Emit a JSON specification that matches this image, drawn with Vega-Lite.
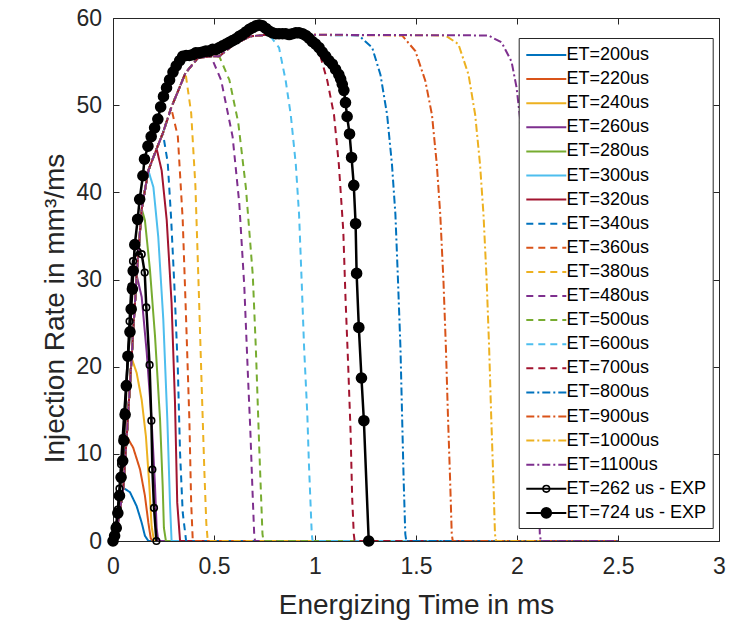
{
  "$schema": "https://vega.github.io/schema/vega-lite/v6.json",
  "width": 606,
  "height": 523,
  "autosize": "none",
  "padding": {"left": 113, "top": 18, "right": 10, "bottom": 81},
  "background": "white",
  "config": {
    "font": "Liberation Sans",
    "view": {"stroke": "#262626", "strokeWidth": 1},
    "axis": {"grid": false, "domain": false, "tickColor": "#262626", "tickSize": -6, "tickWidth": 1, "labelColor": "#262626", "labelFontSize": 23, "labelFlush": false, "titleColor": "#262626", "titleFontSize": 28, "titleFontWeight": "normal", "labelFont": "Liberation Sans", "titleFont": "Liberation Sans"}
  },
  "data": {"values": [
    {"s":"ET=200us","x":0,"y":0},{"s":"ET=200us","x":0.02,"y":1.5},{"s":"ET=200us","x":0.035,"y":3.6},{"s":"ET=200us","x":0.051,"y":6.1},{"s":"ET=200us","x":0.084,"y":5.6},{"s":"ET=200us","x":0.117,"y":4.0},{"s":"ET=200us","x":0.142,"y":2.1},{"s":"ET=200us","x":0.158,"y":0.6},{"s":"ET=200us","x":0.175,"y":0},{"s":"ET=200us","x":2.5,"y":0},

    {"s":"ET=220us","x":0,"y":0},{"s":"ET=220us","x":0.02,"y":1.5},{"s":"ET=220us","x":0.035,"y":3.6},{"s":"ET=220us","x":0.051,"y":6.1},{"s":"ET=220us","x":0.068,"y":12},{"s":"ET=220us","x":0.1,"y":10.7},{"s":"ET=220us","x":0.134,"y":8.2},{"s":"ET=220us","x":0.158,"y":5.2},{"s":"ET=220us","x":0.175,"y":2.1},{"s":"ET=220us","x":0.187,"y":0.3},{"s":"ET=220us","x":0.196,"y":0},{"s":"ET=220us","x":2.5,"y":0},

    {"s":"ET=240us","x":0,"y":0},{"s":"ET=240us","x":0.02,"y":1.5},{"s":"ET=240us","x":0.035,"y":3.6},{"s":"ET=240us","x":0.051,"y":6.1},{"s":"ET=240us","x":0.068,"y":12},{"s":"ET=240us","x":0.092,"y":21},{"s":"ET=240us","x":0.117,"y":19.3},{"s":"ET=240us","x":0.142,"y":16.2},{"s":"ET=240us","x":0.163,"y":12},{"s":"ET=240us","x":0.18,"y":6.3},{"s":"ET=240us","x":0.191,"y":1.7},{"s":"ET=240us","x":0.203,"y":0},{"s":"ET=240us","x":2.5,"y":0},

    {"s":"ET=260us","x":0,"y":0},{"s":"ET=260us","x":0.02,"y":1.5},{"s":"ET=260us","x":0.035,"y":3.6},{"s":"ET=260us","x":0.051,"y":6.1},{"s":"ET=260us","x":0.068,"y":12},{"s":"ET=260us","x":0.092,"y":21},{"s":"ET=260us","x":0.117,"y":30.5},{"s":"ET=260us","x":0.142,"y":28},{"s":"ET=260us","x":0.167,"y":21.6},{"s":"ET=260us","x":0.191,"y":13.9},{"s":"ET=260us","x":0.208,"y":6.3},{"s":"ET=260us","x":0.216,"y":1.5},{"s":"ET=260us","x":0.224,"y":0},{"s":"ET=260us","x":2.5,"y":0},

    {"s":"ET=280us","x":0,"y":0},{"s":"ET=280us","x":0.02,"y":1.5},{"s":"ET=280us","x":0.035,"y":3.6},{"s":"ET=280us","x":0.051,"y":6.1},{"s":"ET=280us","x":0.068,"y":12},{"s":"ET=280us","x":0.092,"y":21},{"s":"ET=280us","x":0.117,"y":30.5},{"s":"ET=280us","x":0.142,"y":38.1},{"s":"ET=280us","x":0.158,"y":36.8},{"s":"ET=280us","x":0.183,"y":31.1},{"s":"ET=280us","x":0.208,"y":23.5},{"s":"ET=280us","x":0.233,"y":13.9},{"s":"ET=280us","x":0.246,"y":6.3},{"s":"ET=280us","x":0.252,"y":1.5},{"s":"ET=280us","x":0.262,"y":0},{"s":"ET=280us","x":2.5,"y":0},

    {"s":"ET=300us","x":0,"y":0},{"s":"ET=300us","x":0.02,"y":1.5},{"s":"ET=300us","x":0.035,"y":3.6},{"s":"ET=300us","x":0.051,"y":6.1},{"s":"ET=300us","x":0.068,"y":12},{"s":"ET=300us","x":0.092,"y":21},{"s":"ET=300us","x":0.117,"y":30.5},{"s":"ET=300us","x":0.142,"y":38.1},{"s":"ET=300us","x":0.175,"y":42.5},{"s":"ET=300us","x":0.2,"y":40.6},{"s":"ET=300us","x":0.224,"y":34.9},{"s":"ET=300us","x":0.249,"y":25.4},{"s":"ET=300us","x":0.269,"y":13.9},{"s":"ET=300us","x":0.282,"y":4.4},{"s":"ET=300us","x":0.29,"y":0},{"s":"ET=300us","x":2.5,"y":0},

    {"s":"ET=320us","x":0,"y":0},{"s":"ET=320us","x":0.02,"y":1.5},{"s":"ET=320us","x":0.035,"y":3.6},{"s":"ET=320us","x":0.051,"y":6.1},{"s":"ET=320us","x":0.068,"y":12},{"s":"ET=320us","x":0.092,"y":21},{"s":"ET=320us","x":0.117,"y":30.5},{"s":"ET=320us","x":0.142,"y":38.1},{"s":"ET=320us","x":0.175,"y":42.5},{"s":"ET=320us","x":0.216,"y":45},{"s":"ET=320us","x":0.241,"y":42.5},{"s":"ET=320us","x":0.266,"y":36.8},{"s":"ET=320us","x":0.29,"y":27.3},{"s":"ET=320us","x":0.307,"y":15.8},{"s":"ET=320us","x":0.318,"y":4.4},{"s":"ET=320us","x":0.332,"y":0},{"s":"ET=320us","x":2.5,"y":0},

    {"s":"ET=340us","x":0,"y":0},{"s":"ET=340us","x":0.02,"y":1.5},{"s":"ET=340us","x":0.035,"y":3.6},{"s":"ET=340us","x":0.051,"y":6.1},{"s":"ET=340us","x":0.068,"y":12},{"s":"ET=340us","x":0.092,"y":21},{"s":"ET=340us","x":0.117,"y":30.5},{"s":"ET=340us","x":0.142,"y":38.1},{"s":"ET=340us","x":0.175,"y":42.5},{"s":"ET=340us","x":0.216,"y":45},{"s":"ET=340us","x":0.247,"y":46.8},{"s":"ET=340us","x":0.271,"y":43.4},{"s":"ET=340us","x":0.288,"y":36.9},{"s":"ET=340us","x":0.304,"y":29.2},{"s":"ET=340us","x":0.321,"y":19.7},{"s":"ET=340us","x":0.332,"y":10.1},{"s":"ET=340us","x":0.345,"y":3.3},{"s":"ET=340us","x":0.362,"y":0},{"s":"ET=340us","x":2.5,"y":0},

    {"s":"ET=360us","x":0,"y":0},{"s":"ET=360us","x":0.02,"y":1.5},{"s":"ET=360us","x":0.035,"y":3.6},{"s":"ET=360us","x":0.051,"y":6.1},{"s":"ET=360us","x":0.068,"y":12},{"s":"ET=360us","x":0.092,"y":21},{"s":"ET=360us","x":0.117,"y":30.5},{"s":"ET=360us","x":0.142,"y":38.1},{"s":"ET=360us","x":0.175,"y":42.5},{"s":"ET=360us","x":0.216,"y":45},{"s":"ET=360us","x":0.247,"y":46.8},{"s":"ET=360us","x":0.288,"y":49.7},{"s":"ET=360us","x":0.321,"y":46.4},{"s":"ET=360us","x":0.345,"y":36.9},{"s":"ET=360us","x":0.362,"y":25.4},{"s":"ET=360us","x":0.378,"y":14},{"s":"ET=360us","x":0.387,"y":4.4},{"s":"ET=360us","x":0.395,"y":0},{"s":"ET=360us","x":2.5,"y":0},

    {"s":"ET=380us","x":0,"y":0},{"s":"ET=380us","x":0.02,"y":1.5},{"s":"ET=380us","x":0.035,"y":3.6},{"s":"ET=380us","x":0.051,"y":6.1},{"s":"ET=380us","x":0.068,"y":12},{"s":"ET=380us","x":0.092,"y":21},{"s":"ET=380us","x":0.117,"y":30.5},{"s":"ET=380us","x":0.142,"y":38.1},{"s":"ET=380us","x":0.175,"y":42.5},{"s":"ET=380us","x":0.216,"y":45},{"s":"ET=380us","x":0.247,"y":46.8},{"s":"ET=380us","x":0.288,"y":49.7},{"s":"ET=380us","x":0.359,"y":53.7},{"s":"ET=380us","x":0.387,"y":49.1},{"s":"ET=380us","x":0.408,"y":40.7},{"s":"ET=380us","x":0.424,"y":29.2},{"s":"ET=380us","x":0.439,"y":17.8},{"s":"ET=380us","x":0.452,"y":8.2},{"s":"ET=380us","x":0.462,"y":2},{"s":"ET=380us","x":0.469,"y":0},{"s":"ET=380us","x":2.5,"y":0},

    {"s":"ET=480us","x":0,"y":0},{"s":"ET=480us","x":0.02,"y":1.5},{"s":"ET=480us","x":0.035,"y":3.6},{"s":"ET=480us","x":0.051,"y":6.1},{"s":"ET=480us","x":0.068,"y":12},{"s":"ET=480us","x":0.092,"y":21},{"s":"ET=480us","x":0.117,"y":30.5},{"s":"ET=480us","x":0.142,"y":38.1},{"s":"ET=480us","x":0.175,"y":42.5},{"s":"ET=480us","x":0.216,"y":45},{"s":"ET=480us","x":0.247,"y":46.8},{"s":"ET=480us","x":0.288,"y":49.7},{"s":"ET=480us","x":0.359,"y":53.7},{"s":"ET=480us","x":0.42,"y":55.4},{"s":"ET=480us","x":0.485,"y":55.6},{"s":"ET=480us","x":0.535,"y":52.9},{"s":"ET=480us","x":0.592,"y":46.4},{"s":"ET=480us","x":0.625,"y":38.8},{"s":"ET=480us","x":0.65,"y":29.2},{"s":"ET=480us","x":0.668,"y":19},{"s":"ET=480us","x":0.68,"y":12.6},{"s":"ET=480us","x":0.69,"y":6.1},{"s":"ET=480us","x":0.699,"y":0.8},{"s":"ET=480us","x":0.703,"y":0},{"s":"ET=480us","x":2.5,"y":0},

    {"s":"ET=500us","x":0,"y":0},{"s":"ET=500us","x":0.02,"y":1.5},{"s":"ET=500us","x":0.035,"y":3.6},{"s":"ET=500us","x":0.051,"y":6.1},{"s":"ET=500us","x":0.068,"y":12},{"s":"ET=500us","x":0.092,"y":21},{"s":"ET=500us","x":0.117,"y":30.5},{"s":"ET=500us","x":0.142,"y":38.1},{"s":"ET=500us","x":0.175,"y":42.5},{"s":"ET=500us","x":0.216,"y":45},{"s":"ET=500us","x":0.247,"y":46.8},{"s":"ET=500us","x":0.288,"y":49.7},{"s":"ET=500us","x":0.359,"y":53.7},{"s":"ET=500us","x":0.42,"y":55.4},{"s":"ET=500us","x":0.485,"y":55.6},{"s":"ET=500us","x":0.526,"y":55.6},{"s":"ET=500us","x":0.576,"y":52.9},{"s":"ET=500us","x":0.62,"y":48},{"s":"ET=500us","x":0.658,"y":40.5},{"s":"ET=500us","x":0.692,"y":30.5},{"s":"ET=500us","x":0.707,"y":22.2},{"s":"ET=500us","x":0.724,"y":10.7},{"s":"ET=500us","x":0.74,"y":0.8},{"s":"ET=500us","x":0.745,"y":0},{"s":"ET=500us","x":2.5,"y":0},

    {"s":"ET=600us","x":0,"y":0},{"s":"ET=600us","x":0.02,"y":1.5},{"s":"ET=600us","x":0.035,"y":3.6},{"s":"ET=600us","x":0.051,"y":6.1},{"s":"ET=600us","x":0.068,"y":12},{"s":"ET=600us","x":0.092,"y":21},{"s":"ET=600us","x":0.117,"y":30.5},{"s":"ET=600us","x":0.142,"y":38.1},{"s":"ET=600us","x":0.175,"y":42.5},{"s":"ET=600us","x":0.216,"y":45},{"s":"ET=600us","x":0.247,"y":46.8},{"s":"ET=600us","x":0.288,"y":49.7},{"s":"ET=600us","x":0.359,"y":53.7},{"s":"ET=600us","x":0.42,"y":55.4},{"s":"ET=600us","x":0.485,"y":55.6},{"s":"ET=600us","x":0.526,"y":55.6},{"s":"ET=600us","x":0.6,"y":57},{"s":"ET=600us","x":0.68,"y":57.9},{"s":"ET=600us","x":0.773,"y":58.1},{"s":"ET=600us","x":0.822,"y":56.6},{"s":"ET=600us","x":0.855,"y":52.8},{"s":"ET=600us","x":0.88,"y":48.9},{"s":"ET=600us","x":0.905,"y":43.2},{"s":"ET=600us","x":0.921,"y":37.5},{"s":"ET=600us","x":0.934,"y":29.8},{"s":"ET=600us","x":0.946,"y":22.2},{"s":"ET=600us","x":0.962,"y":14.5},{"s":"ET=600us","x":0.97,"y":8.8},{"s":"ET=600us","x":0.984,"y":0.8},{"s":"ET=600us","x":0.988,"y":0},{"s":"ET=600us","x":2.5,"y":0},

    {"s":"ET=700us","x":0,"y":0},{"s":"ET=700us","x":0.02,"y":1.5},{"s":"ET=700us","x":0.035,"y":3.6},{"s":"ET=700us","x":0.051,"y":6.1},{"s":"ET=700us","x":0.068,"y":12},{"s":"ET=700us","x":0.092,"y":21},{"s":"ET=700us","x":0.117,"y":30.5},{"s":"ET=700us","x":0.142,"y":38.1},{"s":"ET=700us","x":0.175,"y":42.5},{"s":"ET=700us","x":0.216,"y":45},{"s":"ET=700us","x":0.247,"y":46.8},{"s":"ET=700us","x":0.288,"y":49.7},{"s":"ET=700us","x":0.359,"y":53.7},{"s":"ET=700us","x":0.42,"y":55.4},{"s":"ET=700us","x":0.485,"y":55.6},{"s":"ET=700us","x":0.526,"y":55.6},{"s":"ET=700us","x":0.6,"y":57},{"s":"ET=700us","x":0.68,"y":57.9},{"s":"ET=700us","x":0.773,"y":58.1},{"s":"ET=700us","x":0.94,"y":58.1},{"s":"ET=700us","x":0.97,"y":57.3},{"s":"ET=700us","x":1.02,"y":56.2},{"s":"ET=700us","x":1.061,"y":52.8},{"s":"ET=700us","x":1.094,"y":48.9},{"s":"ET=700us","x":1.118,"y":43.2},{"s":"ET=700us","x":1.14,"y":35.6},{"s":"ET=700us","x":1.151,"y":27.9},{"s":"ET=700us","x":1.164,"y":20.3},{"s":"ET=700us","x":1.176,"y":12.6},{"s":"ET=700us","x":1.184,"y":5},{"s":"ET=700us","x":1.192,"y":0.8},{"s":"ET=700us","x":1.196,"y":0},{"s":"ET=700us","x":2.5,"y":0},

    {"s":"ET=800us","x":0,"y":0},{"s":"ET=800us","x":0.02,"y":1.5},{"s":"ET=800us","x":0.035,"y":3.6},{"s":"ET=800us","x":0.051,"y":6.1},{"s":"ET=800us","x":0.068,"y":12},{"s":"ET=800us","x":0.092,"y":21},{"s":"ET=800us","x":0.117,"y":30.5},{"s":"ET=800us","x":0.142,"y":38.1},{"s":"ET=800us","x":0.175,"y":42.5},{"s":"ET=800us","x":0.216,"y":45},{"s":"ET=800us","x":0.247,"y":46.8},{"s":"ET=800us","x":0.288,"y":49.7},{"s":"ET=800us","x":0.359,"y":53.7},{"s":"ET=800us","x":0.42,"y":55.4},{"s":"ET=800us","x":0.485,"y":55.6},{"s":"ET=800us","x":0.526,"y":55.6},{"s":"ET=800us","x":0.6,"y":57},{"s":"ET=800us","x":0.68,"y":57.9},{"s":"ET=800us","x":0.773,"y":58.1},{"s":"ET=800us","x":1.217,"y":58},{"s":"ET=800us","x":1.283,"y":56.6},{"s":"ET=800us","x":1.324,"y":53.5},{"s":"ET=800us","x":1.357,"y":48.9},{"s":"ET=800us","x":1.381,"y":43.2},{"s":"ET=800us","x":1.398,"y":37.5},{"s":"ET=800us","x":1.411,"y":29.8},{"s":"ET=800us","x":1.423,"y":22.2},{"s":"ET=800us","x":1.431,"y":14.5},{"s":"ET=800us","x":1.439,"y":6.9},{"s":"ET=800us","x":1.447,"y":0.8},{"s":"ET=800us","x":1.452,"y":0},{"s":"ET=800us","x":2.5,"y":0},

    {"s":"ET=900us","x":0,"y":0},{"s":"ET=900us","x":0.02,"y":1.5},{"s":"ET=900us","x":0.035,"y":3.6},{"s":"ET=900us","x":0.051,"y":6.1},{"s":"ET=900us","x":0.068,"y":12},{"s":"ET=900us","x":0.092,"y":21},{"s":"ET=900us","x":0.117,"y":30.5},{"s":"ET=900us","x":0.142,"y":38.1},{"s":"ET=900us","x":0.175,"y":42.5},{"s":"ET=900us","x":0.216,"y":45},{"s":"ET=900us","x":0.247,"y":46.8},{"s":"ET=900us","x":0.288,"y":49.7},{"s":"ET=900us","x":0.359,"y":53.7},{"s":"ET=900us","x":0.42,"y":55.4},{"s":"ET=900us","x":0.485,"y":55.6},{"s":"ET=900us","x":0.526,"y":55.6},{"s":"ET=900us","x":0.6,"y":57},{"s":"ET=900us","x":0.68,"y":57.9},{"s":"ET=900us","x":0.773,"y":58.1},{"s":"ET=900us","x":1.431,"y":58},{"s":"ET=900us","x":1.497,"y":56.2},{"s":"ET=900us","x":1.546,"y":52.8},{"s":"ET=900us","x":1.579,"y":48.9},{"s":"ET=900us","x":1.603,"y":43.2},{"s":"ET=900us","x":1.62,"y":37.5},{"s":"ET=900us","x":1.636,"y":29.8},{"s":"ET=900us","x":1.648,"y":22.2},{"s":"ET=900us","x":1.658,"y":14.5},{"s":"ET=900us","x":1.669,"y":6.9},{"s":"ET=900us","x":1.677,"y":0.8},{"s":"ET=900us","x":1.682,"y":0},{"s":"ET=900us","x":2.5,"y":0},

    {"s":"ET=1000us","x":0,"y":0},{"s":"ET=1000us","x":0.02,"y":1.5},{"s":"ET=1000us","x":0.035,"y":3.6},{"s":"ET=1000us","x":0.051,"y":6.1},{"s":"ET=1000us","x":0.068,"y":12},{"s":"ET=1000us","x":0.092,"y":21},{"s":"ET=1000us","x":0.117,"y":30.5},{"s":"ET=1000us","x":0.142,"y":38.1},{"s":"ET=1000us","x":0.175,"y":42.5},{"s":"ET=1000us","x":0.216,"y":45},{"s":"ET=1000us","x":0.247,"y":46.8},{"s":"ET=1000us","x":0.288,"y":49.7},{"s":"ET=1000us","x":0.359,"y":53.7},{"s":"ET=1000us","x":0.42,"y":55.4},{"s":"ET=1000us","x":0.485,"y":55.6},{"s":"ET=1000us","x":0.526,"y":55.6},{"s":"ET=1000us","x":0.6,"y":57},{"s":"ET=1000us","x":0.68,"y":57.9},{"s":"ET=1000us","x":0.773,"y":58.1},{"s":"ET=1000us","x":1.645,"y":58},{"s":"ET=1000us","x":1.71,"y":57},{"s":"ET=1000us","x":1.76,"y":53.5},{"s":"ET=1000us","x":1.793,"y":48.9},{"s":"ET=1000us","x":1.817,"y":43.2},{"s":"ET=1000us","x":1.834,"y":37.5},{"s":"ET=1000us","x":1.85,"y":29.8},{"s":"ET=1000us","x":1.862,"y":22.2},{"s":"ET=1000us","x":1.872,"y":14.5},{"s":"ET=1000us","x":1.883,"y":6.9},{"s":"ET=1000us","x":1.891,"y":0.8},{"s":"ET=1000us","x":1.896,"y":0},{"s":"ET=1000us","x":2.5,"y":0},

    {"s":"ET=1100us","x":0,"y":0},{"s":"ET=1100us","x":0.02,"y":1.5},{"s":"ET=1100us","x":0.035,"y":3.6},{"s":"ET=1100us","x":0.051,"y":6.1},{"s":"ET=1100us","x":0.068,"y":12},{"s":"ET=1100us","x":0.092,"y":21},{"s":"ET=1100us","x":0.117,"y":30.5},{"s":"ET=1100us","x":0.142,"y":38.1},{"s":"ET=1100us","x":0.175,"y":42.5},{"s":"ET=1100us","x":0.216,"y":45},{"s":"ET=1100us","x":0.247,"y":46.8},{"s":"ET=1100us","x":0.288,"y":49.7},{"s":"ET=1100us","x":0.359,"y":53.7},{"s":"ET=1100us","x":0.42,"y":55.4},{"s":"ET=1100us","x":0.485,"y":55.6},{"s":"ET=1100us","x":0.526,"y":55.6},{"s":"ET=1100us","x":0.6,"y":57},{"s":"ET=1100us","x":0.68,"y":57.9},{"s":"ET=1100us","x":0.773,"y":58.1},{"s":"ET=1100us","x":1.858,"y":58},{"s":"ET=1100us","x":1.924,"y":57.2},{"s":"ET=1100us","x":1.973,"y":55},{"s":"ET=1100us","x":1.998,"y":52},{"s":"ET=1100us","x":2.02,"y":47.5},{"s":"ET=1100us","x":2.04,"y":42.5},{"s":"ET=1100us","x":2.056,"y":37.5},{"s":"ET=1100us","x":2.072,"y":29.8},{"s":"ET=1100us","x":2.084,"y":22.2},{"s":"ET=1100us","x":2.094,"y":14.5},{"s":"ET=1100us","x":2.105,"y":6.9},{"s":"ET=1100us","x":2.113,"y":0.8},{"s":"ET=1100us","x":2.118,"y":0},{"s":"ET=1100us","x":2.5,"y":0},

    {"s":"ET=262 us - EXP","x":0,"y":0},{"s":"ET=262 us - EXP","x":0.008,"y":0.6},{"s":"ET=262 us - EXP","x":0.016,"y":1.8},{"s":"ET=262 us - EXP","x":0.024,"y":3.6},{"s":"ET=262 us - EXP","x":0.032,"y":6},{"s":"ET=262 us - EXP","x":0.04,"y":8.8},{"s":"ET=262 us - EXP","x":0.048,"y":11.8},{"s":"ET=262 us - EXP","x":0.056,"y":14.8},{"s":"ET=262 us - EXP","x":0.066,"y":18},{"s":"ET=262 us - EXP","x":0.074,"y":21.2},{"s":"ET=262 us - EXP","x":0.082,"y":25.2},{"s":"ET=262 us - EXP","x":0.091,"y":29.2},{"s":"ET=262 us - EXP","x":0.099,"y":32.1},{"s":"ET=262 us - EXP","x":0.122,"y":33.2},{"s":"ET=262 us - EXP","x":0.142,"y":32.9},{"s":"ET=262 us - EXP","x":0.157,"y":30.8},{"s":"ET=262 us - EXP","x":0.165,"y":26.8},{"s":"ET=262 us - EXP","x":0.181,"y":20.2},{"s":"ET=262 us - EXP","x":0.19,"y":13.8},{"s":"ET=262 us - EXP","x":0.195,"y":8.2},{"s":"ET=262 us - EXP","x":0.203,"y":3.8},{"s":"ET=262 us - EXP","x":0.215,"y":0},

    {"s":"ET=724 us - EXP","x":0,"y":0},{"s":"ET=724 us - EXP","x":0.008,"y":0.6},{"s":"ET=724 us - EXP","x":0.016,"y":1.5},{"s":"ET=724 us - EXP","x":0.024,"y":3.2},{"s":"ET=724 us - EXP","x":0.032,"y":5.2},{"s":"ET=724 us - EXP","x":0.04,"y":7.3},{"s":"ET=724 us - EXP","x":0.048,"y":9.2},{"s":"ET=724 us - EXP","x":0.054,"y":11.5},{"s":"ET=724 us - EXP","x":0.06,"y":14.5},{"s":"ET=724 us - EXP","x":0.066,"y":17.8},{"s":"ET=724 us - EXP","x":0.074,"y":21.2},{"s":"ET=724 us - EXP","x":0.084,"y":24},{"s":"ET=724 us - EXP","x":0.09,"y":26.6},{"s":"ET=724 us - EXP","x":0.096,"y":28.9},{"s":"ET=724 us - EXP","x":0.1,"y":31},{"s":"ET=724 us - EXP","x":0.108,"y":34},{"s":"ET=724 us - EXP","x":0.122,"y":36.9},{"s":"ET=724 us - EXP","x":0.132,"y":39.2},{"s":"ET=724 us - EXP","x":0.148,"y":41.9},{"s":"ET=724 us - EXP","x":0.156,"y":43.8},{"s":"ET=724 us - EXP","x":0.173,"y":45.3},{"s":"ET=724 us - EXP","x":0.189,"y":46.4},{"s":"ET=724 us - EXP","x":0.206,"y":47.4},{"s":"ET=724 us - EXP","x":0.222,"y":48.4},{"s":"ET=724 us - EXP","x":0.236,"y":49.8},{"s":"ET=724 us - EXP","x":0.25,"y":51},{"s":"ET=724 us - EXP","x":0.265,"y":52},{"s":"ET=724 us - EXP","x":0.28,"y":52.9},{"s":"ET=724 us - EXP","x":0.297,"y":53.8},{"s":"ET=724 us - EXP","x":0.313,"y":54.5},{"s":"ET=724 us - EXP","x":0.33,"y":55.1},{"s":"ET=724 us - EXP","x":0.345,"y":55.6},{"s":"ET=724 us - EXP","x":0.362,"y":55.7},{"s":"ET=724 us - EXP","x":0.378,"y":55.7},{"s":"ET=724 us - EXP","x":0.395,"y":55.8},{"s":"ET=724 us - EXP","x":0.41,"y":56},{"s":"ET=724 us - EXP","x":0.427,"y":56},{"s":"ET=724 us - EXP","x":0.444,"y":56.1},{"s":"ET=724 us - EXP","x":0.46,"y":56.2},{"s":"ET=724 us - EXP","x":0.477,"y":56.2},{"s":"ET=724 us - EXP","x":0.493,"y":56.4},{"s":"ET=724 us - EXP","x":0.51,"y":56.4},{"s":"ET=724 us - EXP","x":0.527,"y":56.6},{"s":"ET=724 us - EXP","x":0.543,"y":56.8},{"s":"ET=724 us - EXP","x":0.56,"y":57},{"s":"ET=724 us - EXP","x":0.576,"y":57.2},{"s":"ET=724 us - EXP","x":0.592,"y":57.4},{"s":"ET=724 us - EXP","x":0.609,"y":57.6},{"s":"ET=724 us - EXP","x":0.625,"y":57.9},{"s":"ET=724 us - EXP","x":0.641,"y":58.1},{"s":"ET=724 us - EXP","x":0.658,"y":58.4},{"s":"ET=724 us - EXP","x":0.675,"y":58.7},{"s":"ET=724 us - EXP","x":0.691,"y":58.9},{"s":"ET=724 us - EXP","x":0.708,"y":59.1},{"s":"ET=724 us - EXP","x":0.724,"y":59.2},{"s":"ET=724 us - EXP","x":0.74,"y":59.1},{"s":"ET=724 us - EXP","x":0.757,"y":58.8},{"s":"ET=724 us - EXP","x":0.773,"y":58.5},{"s":"ET=724 us - EXP","x":0.79,"y":58.3},{"s":"ET=724 us - EXP","x":0.806,"y":58.2},{"s":"ET=724 us - EXP","x":0.822,"y":58.2},{"s":"ET=724 us - EXP","x":0.839,"y":58.2},{"s":"ET=724 us - EXP","x":0.855,"y":58.2},{"s":"ET=724 us - EXP","x":0.872,"y":58.1},{"s":"ET=724 us - EXP","x":0.888,"y":58.2},{"s":"ET=724 us - EXP","x":0.905,"y":58.3},{"s":"ET=724 us - EXP","x":0.921,"y":58.3},{"s":"ET=724 us - EXP","x":0.938,"y":58.2},{"s":"ET=724 us - EXP","x":0.954,"y":58},{"s":"ET=724 us - EXP","x":0.97,"y":57.7},{"s":"ET=724 us - EXP","x":0.987,"y":57.3},{"s":"ET=724 us - EXP","x":1.003,"y":57},{"s":"ET=724 us - EXP","x":1.02,"y":56.6},{"s":"ET=724 us - EXP","x":1.036,"y":56.1},{"s":"ET=724 us - EXP","x":1.053,"y":55.6},{"s":"ET=724 us - EXP","x":1.069,"y":55.1},{"s":"ET=724 us - EXP","x":1.086,"y":54.7},{"s":"ET=724 us - EXP","x":1.102,"y":54.1},{"s":"ET=724 us - EXP","x":1.118,"y":53.5},{"s":"ET=724 us - EXP","x":1.127,"y":53},{"s":"ET=724 us - EXP","x":1.135,"y":52.4},{"s":"ET=724 us - EXP","x":1.143,"y":51.7},{"s":"ET=724 us - EXP","x":1.151,"y":50.3},{"s":"ET=724 us - EXP","x":1.159,"y":48.7},{"s":"ET=724 us - EXP","x":1.171,"y":46.7},{"s":"ET=724 us - EXP","x":1.181,"y":44},{"s":"ET=724 us - EXP","x":1.192,"y":40.8},{"s":"ET=724 us - EXP","x":1.201,"y":36.4},{"s":"ET=724 us - EXP","x":1.206,"y":30.7},{"s":"ET=724 us - EXP","x":1.217,"y":24.5},{"s":"ET=724 us - EXP","x":1.23,"y":18.7},{"s":"ET=724 us - EXP","x":1.242,"y":13.8},{"s":"ET=724 us - EXP","x":1.266,"y":0}
  ]},
  "layer": [
    {
      "transform": [{"filter": {"not": {"field": "s", "oneOf": ["ET=262 us - EXP", "ET=724 us - EXP"]}}}],
      "mark": {"type": "line", "strokeWidth": 2, "clip": true},
      "encoding": {
        "x": {"field": "x", "type": "quantitative", "scale": {"domain": [0, 3], "nice": false, "zero": false},
              "axis": {"orient": "bottom", "values": [0, 0.5, 1, 1.5, 2, 2.5, 3], "format": "~g", "title": "Energizing Time in ms", "labelPadding": 20, "titleY": 72, "titleBaseline": "alphabetic"}},
        "y": {"field": "y", "type": "quantitative", "scale": {"domain": [0, 60], "nice": false},
              "axis": {"orient": "left", "values": [0, 10, 20, 30, 40, 50, 60], "title": "Injection Rate in mm³/ms", "labelPadding": 17.5, "titleX": -50, "titleY": 290, "titleBaseline": "alphabetic"}},
        "color": {"field": "s", "type": "nominal",
          "scale": {
            "domain": ["ET=200us","ET=220us","ET=240us","ET=260us","ET=280us","ET=300us","ET=320us","ET=340us","ET=360us","ET=380us","ET=480us","ET=500us","ET=600us","ET=700us","ET=800us","ET=900us","ET=1000us","ET=1100us","ET=262 us - EXP","ET=724 us - EXP"],
            "range": ["#0072BD","#D95319","#EDB120","#7E2F8E","#77AC30","#4DBEEE","#A2142F","#0072BD","#D95319","#EDB120","#7E2F8E","#77AC30","#4DBEEE","#A2142F","#0072BD","#D95319","#EDB120","#7E2F8E","#000000","#000000"]
          },
          "legend": {
            "orient": "none", "legendX": 405.7, "legendY": 20, "title": null,
            "fillColor": "white", "strokeColor": "#262626", "padding": 6,
            "labelFontSize": 18, "labelColor": "#000000", "labelFont": "Liberation Sans", "labelLimit": 400,
            "symbolSize": 400, "symbolStrokeWidth": 2, "symbolOffset": 10.6, "labelOffset": 9.1, "rowPadding": 4.1,
            "symbolType": "M-2,0H2"
          }
        },
        "strokeDash": {"field": "s", "type": "nominal",
          "scale": {
            "domain": ["ET=200us","ET=220us","ET=240us","ET=260us","ET=280us","ET=300us","ET=320us","ET=340us","ET=360us","ET=380us","ET=480us","ET=500us","ET=600us","ET=700us","ET=800us","ET=900us","ET=1000us","ET=1100us","ET=262 us - EXP","ET=724 us - EXP"],
            "range": [[1,0],[1,0],[1,0],[1,0],[1,0],[1,0],[1,0],[7,5],[7,5],[7,5],[7,5],[7,5],[7,5],[7,5],[8,3,2,3],[8,3,2,3],[8,3,2,3],[8,3,2,3],[1,0],[1,0]]
          }
        }
      }
    },
    {
      "transform": [{"filter": {"field": "s", "oneOf": ["ET=262 us - EXP", "ET=724 us - EXP"]}}],
      "mark": {"type": "line", "strokeWidth": 2.5, "color": "#000000"},
      "encoding": {
        "x": {"field": "x", "type": "quantitative", "axis": {"orient": "top", "labels": false, "title": null, "values": [0, 0.5, 1, 1.5, 2, 2.5, 3]}},
        "y": {"field": "y", "type": "quantitative", "axis": {"orient": "right", "labels": false, "title": null, "values": [0, 10, 20, 30, 40, 50, 60]}},
        "detail": {"field": "s", "type": "nominal"}
      }
    },
    {
      "transform": [{"filter": {"field": "s", "oneOf": ["ET=262 us - EXP", "ET=724 us - EXP"]}}],
      "mark": {"type": "point", "stroke": "#000000", "strokeWidth": 1.6, "size": 400, "opacity": 1},
      "encoding": {
        "x": {"field": "x", "type": "quantitative", "axis": null},
        "y": {"field": "y", "type": "quantitative", "axis": null},
        "fill": {"field": "s", "type": "nominal",
          "scale": {"domain": ["ET=262 us - EXP", "ET=724 us - EXP"], "range": ["transparent", "#000000"]},
          "legend": {
            "orient": "none", "legendX": 405.7, "legendY": 453.8, "title": null, "padding": 6,
            "labelFontSize": 18, "labelFont": "Liberation Sans", "labelExpr": "' '", "labelColor": "#000000",
            "symbolSize": 400, "symbolStrokeWidth": 1.6, "symbolStrokeColor": "#000000", "symbolOffset": 10.6, "labelOffset": 9.1, "rowPadding": 4.1
          }
        },
        "shape": {"field": "s", "type": "nominal",
          "scale": {"domain": ["ET=262 us - EXP", "ET=724 us - EXP"], "range": ["M0.33,0A0.33,0.33,0,1,1,-0.33,0A0.33,0.33,0,1,1,0.33,0Z", "M0.5,0A0.5,0.5,0,1,1,-0.5,0A0.5,0.5,0,1,1,0.5,0Z"]}
        }
      }
    }
  ],
  "resolve": {"axis": {"x": "independent", "y": "independent"}}
}
